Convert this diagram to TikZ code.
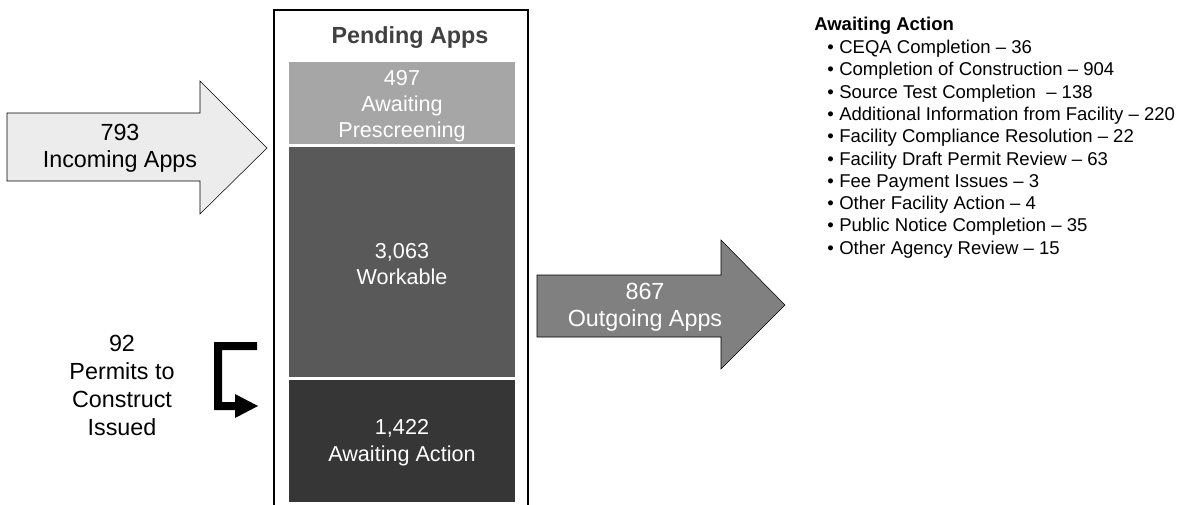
\documentclass[tikz,border=0pt]{standalone}
\usepackage{fontspec}
\setmainfont{Liberation Sans}
\usepackage{xcolor}
\definecolor{inGray}{RGB}{236,236,236}
\definecolor{outGray}{RGB}{128,128,128}
\definecolor{preGray}{RGB}{166,166,166}
\definecolor{workGray}{RGB}{89,89,89}
\definecolor{actGray}{RGB}{54,54,54}
\definecolor{titleGray}{RGB}{64,64,64}
\newcommand{\blt}{\makebox[9pt][l]{\textbullet}}
\tikzset{
  bigtxt/.style={align=center,inner sep=0.75pt,font=\fontsize{17.5}{20.5}\selectfont},
  boxtxt/.style={align=center,inner sep=0.75pt,text=white,font=\fontsize{16.2}{20}\selectfont},
  listtxt/.style={anchor=north west,align=left,inner sep=0pt,font=\fontsize{13.9}{16.7}\selectfont}
}

\begin{document}
\begin{tikzpicture}[x=0.75pt,y=0.75pt,yscale=-1,xscale=1]
\useasboundingbox (0,0) rectangle (1182,504);

%Rect: pending apps box
\draw [line width=1.1]  (274,10) -- (528,10) -- (528,520) -- (274,520) -- cycle ;
%Rect: blocks
\fill [preGray]  (289,62) rectangle (515,144) ;
\fill [workGray]  (289,147) rectangle (515,377) ;
\fill [actGray]  (289,380) rectangle (515,502) ;

%Right Arrow: incoming
\draw [fill=inGray]  (7,113) -- (200,113) -- (200,81) -- (267,148) -- (200,214) -- (200,181) -- (7,181) -- cycle ;
%Right Arrow: outgoing
\draw [fill=outGray]  (537,275) -- (721,275) -- (721,240) -- (785,305) -- (721,369) -- (721,337) -- (537,337) -- cycle ;
%Bent Arrow: permits
\fill [black]  (257,342) -- (214,342) -- (214,410) -- (235,410) -- (235,418) -- (258,406) -- (235,394) -- (235,402) -- (222,402) -- (222,350) -- (257,350) -- cycle ;

% Text Node
\node (title) at (410,38) [inner sep=0.75pt,text=titleGray,font=\fontsize{17.5}{20}\selectfont\bfseries] {Pending Apps};
% Text Node
\node (prescr) at (402,106.5) [boxtxt,font=\fontsize{16.2}{19.6}\selectfont] {497\\Awaiting\\Prescreening};
% Text Node
\node (work) at (402,264) [boxtxt] {3,063\\Workable};
% Text Node
\node (action) at (402,443) [boxtxt] {1,422\\Awaiting Action};
% Text Node
\node (incoming) at (120,148.5) [bigtxt] {793\\Incoming Apps};
% Text Node
\node (outgoing) at (645,307.5) [bigtxt,text=white] {867\\Outgoing Apps};
% Text Node
\node (permits) at (122,385.5) [bigtxt,font=\fontsize{17.5}{21}\selectfont] {92\\Permits to\\Construct\\Issued};
% Text Node
\node (listhead) at (814,17) [listtxt] {\textbf{Awaiting Action}};
% Text Node
\node (list) at (827,40) [listtxt] {%
\blt CEQA Completion -- 36\\
\blt Completion of Construction -- 904\\
\blt Source Test Completion \ -- 138\\
\blt Additional Information from Facility -- 220\\
\blt Facility Compliance Resolution -- 22\\
\blt Facility Draft Permit Review -- 63\\
\blt Fee Payment Issues -- 3\\
\blt Other Facility Action -- 4\\
\blt Public Notice Completion -- 35\\
\blt Other Agency Review -- 15};

\end{tikzpicture}
\end{document}
